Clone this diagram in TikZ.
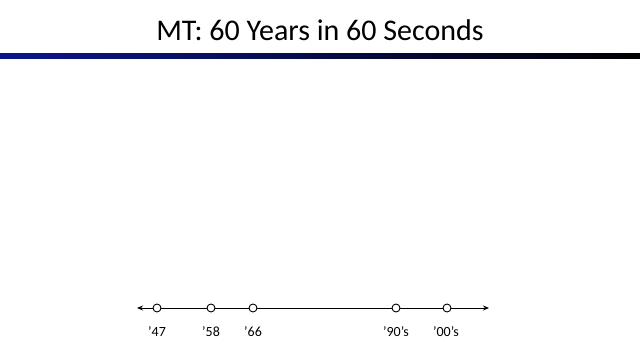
\documentclass[tikz,border=0pt]{standalone}
\usepackage{fontspec}
\setmainfont{Carlito}
\usetikzlibrary{arrows.meta}
\definecolor{rulenavy}{RGB}{12,22,140}
\tikzset{
  year/.style={circle,draw=black,fill=white,line width=0.9pt,minimum size=8pt,inner sep=0pt},
  yearlabel/.style={font=\fontsize{14}{16}\selectfont,anchor=base},
}
\begin{document}
\begin{tikzpicture}[x=1pt,y=1pt]
	\useasboundingbox (0,0) rectangle (640,360);
	\node (title) at (320,330) {\fontsize{30}{34}\selectfont MT: 60 Years in 60 Seconds};
	\shade[left color=rulenavy,right color=black] (0,302) rectangle (640,306.5);

	% time line
	\coordinate (tl) at (137,52);
	\coordinate (tr) at (489,52);
	\draw[line width=0.9pt,{Stealth[length=6pt,width=5pt]}-{Stealth[length=6pt,width=5pt]}] (tl) -- (tr);

	\node[year] (y47) at (157,52) {};
	\node[year] (y58) at (211,52) {};
	\node[year] (y66) at (253,52) {};
	\node[year] (y90) at (396,52) {};
	\node[year] (y00) at (447,52) {};

	\node[yearlabel] (l47) at (157,24) {’47};
	\node[yearlabel] (l58) at (211,24) {’58};
	\node[yearlabel] (l66) at (253,24) {’66};
	\node[yearlabel] (l90) at (396,24) {’90’s};
	\node[yearlabel] (l00) at (446,24) {’00’s};
\end{tikzpicture}
\end{document}
